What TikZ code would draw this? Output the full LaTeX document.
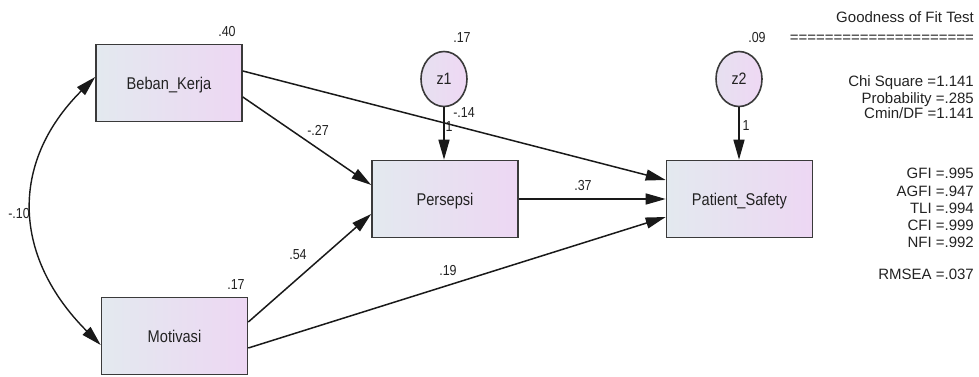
\documentclass[tikz,border=0pt]{standalone}
\usepackage{fontspec}
\setmainfont{Liberation Sans}
\usetikzlibrary{arrows.meta,shapes.geometric,calc}

\definecolor{boxleft}{HTML}{E3E9EF}
\definecolor{boxright}{HTML}{EDD7F3}
\definecolor{errleft}{HTML}{E6E0F0}
\definecolor{errright}{HTML}{EFD8F4}
\definecolor{edge}{HTML}{3A3A3A}
\definecolor{ink}{HTML}{222222}

% diagram labels are set slightly condensed
\newcommand{\narrow}[1]{\scalebox{0.86}[1]{#1}}

\tikzset{
  varbox/.style={draw=edge, line width=1.6pt, left color=boxleft, right color=boxright,
    minimum width=146pt, minimum height=77pt, inner sep=0pt,
    text height=12.3pt, text depth=0pt, font=\fontsize{17}{20}\selectfont, text=ink},
  errvar/.style={ellipse, draw=edge, line width=1.6pt, left color=errleft, right color=errright,
    minimum width=46pt, minimum height=55pt, inner sep=0pt,
    text height=11pt, text depth=0pt, font=\fontsize{16.5}{19}\selectfont, text=ink},
  link/.style={line width=1.5pt, draw=black!90, -{Triangle[length=20pt,width=11pt]}},
  bothway/.style={line width=1.4pt, draw=black!90,
    {Triangle[length=20pt,width=11pt]}-{Triangle[length=20pt,width=11pt]}},
  coef/.style={font=\fontsize{14.5}{16}\selectfont, inner sep=0pt, text=ink},
  fitline/.style={font=\fontsize{15}{17}\selectfont, inner sep=0pt, anchor=base east, text=ink},
}

\begin{document}
\begin{tikzpicture}[x=1pt,y=-1pt]
  \useasboundingbox (0,0) rectangle (979,377);

  % observed variables
  \node[varbox] (bk) at (169,83)    {\narrow{Beban\_Kerja}};
  \node[varbox] (mo) at (174.5,336) {\narrow{Motivasi}};
  \node[varbox] (pe) at (445,199)   {\narrow{Persepsi}};
  \node[varbox] (ps) at (739.5,199) {\narrow{Patient\_Safety}};

  % residuals
  \node[errvar] (z1) at (444,79) {\narrow{z1}};
  \node[errvar] (z2) at (739,79) {\narrow{z2}};

  % regression paths
  \draw[link] ([yshift=-14pt]bk.east) -- ([yshift=14pt]pe.west);
  \draw[link] ([yshift=12pt]bk.east)  -- ([yshift=19pt]ps.west);
  \draw[link] ([yshift=14pt]mo.east)  -- ([yshift=-15pt]pe.west);
  \draw[link] ([yshift=-12pt]mo.east) -- ([yshift=-18pt]ps.west);
  \draw[link] (pe.east) -- (ps.west);
  \draw[link] (z1.south) -- (z1.south |- pe.north);
  \draw[link] (z2.south) -- (z2.south |- ps.north);

  % covariance between the exogenous variables
  \draw[bothway] ([yshift=6pt]bk.west) .. controls +(-87,87) and +(-87,-87) .. ([yshift=-9pt]mo.west);

  % squared multiple correlations / variances
  \node[coef] (v1) at (227,32)  {\narrow{.40}};
  \node[coef] (v2) at (236,285) {\narrow{.17}};
  \node[coef] (v3) at (462,38)  {\narrow{.17}};
  \node[coef] (v4) at (757,38)  {\narrow{.09}};

  % path coefficients
  \node[coef] (c1) at (318,130) {\narrow{-.27}};
  \node[coef] (c2) at (298,255) {\narrow{.54}};
  \node[coef] (c3) at (448,271) {\narrow{.19}};
  \node[coef] (c4) at (583,186) {\narrow{.37}};
  \node[coef] (c5) at (464,113) {\narrow{-.14}};
  \node[coef] (c6) at (449,127) {\narrow{1}};
  \node[coef] (c7) at (746,126) {\narrow{1}};
  \node[coef] (c8) at (19,214)  {\narrow{-.10}};

  % fit statistics
  \node[fitline] (g0) at (974,23)  {Goodness of Fit Test};
  \node[fitline] (g1) at (974,43)  {=====================};
  \node[fitline] (g2) at (974,87)  {Chi Square =1.141};
  \node[fitline] (g3) at (974,103.5) {Probability =.285};
  \node[fitline] (g4) at (974,119) {Cmin/DF =1.141};
  \node[fitline] (g5) at (974,178) {GFI =.995};
  \node[fitline] (g6) at (974,196) {AGFI =.947};
  \node[fitline] (g7) at (974,213) {TLI =.994};
  \node[fitline] (g8) at (974,230) {CFI =.999};
  \node[fitline] (g9) at (974,247) {NFI =.992};
  \node[fitline] (g10) at (974,279) {RMSEA =.037};
\end{tikzpicture}
\end{document}
